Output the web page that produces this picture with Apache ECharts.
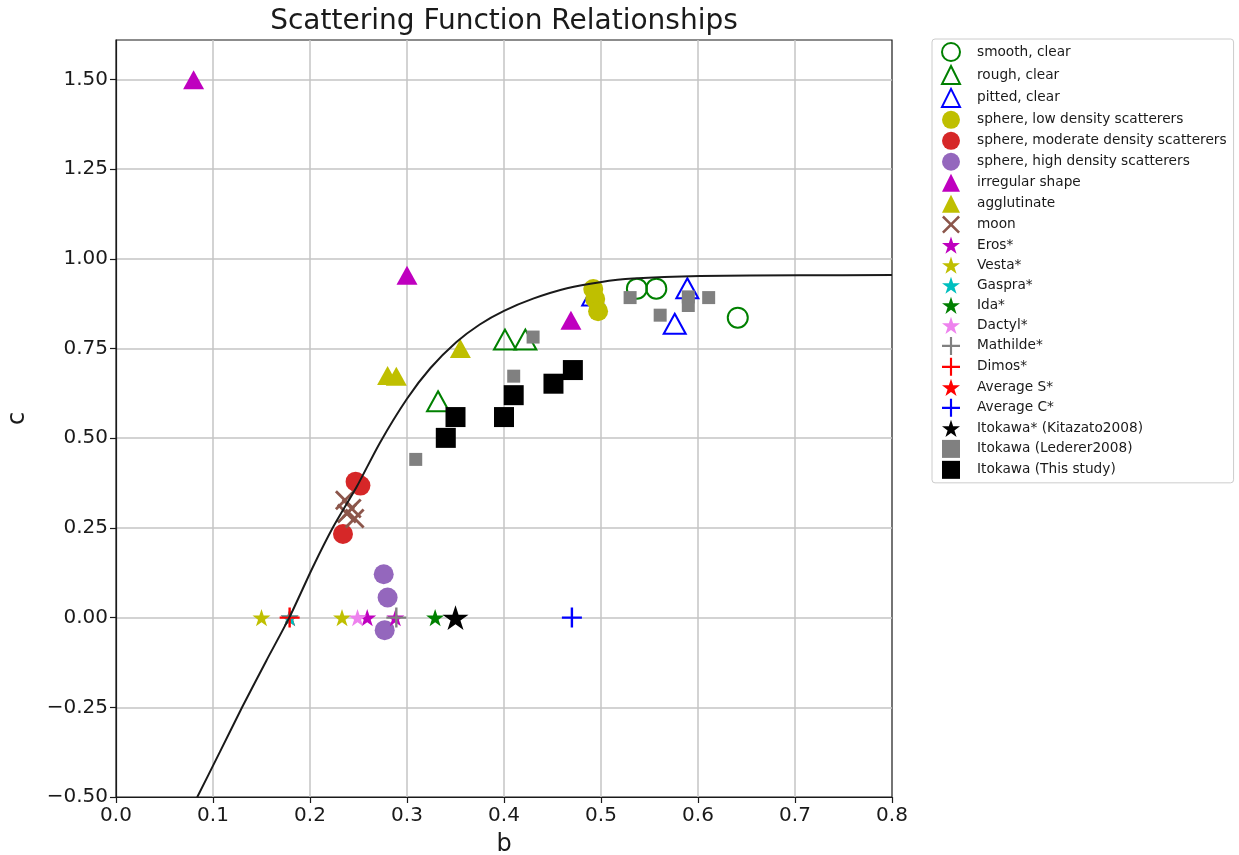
<!DOCTYPE html>
<html>
<head>
<meta charset="utf-8">
<script src="https://cdn.jsdelivr.net/npm/echarts@6/dist/echarts.min.js"></script>
<style>html,body{margin:0;padding:0;background:#fff;}#chart{width:1239px;height:855px;}</style>
</head>
<body>
<div id="chart"></div>
<script>
// ---- data (b, c) ----
const smoothClear = [[0.537, 0.917], [0.557, 0.917], [0.641, 0.836]];
const roughClear = [[0.401, 0.775], [0.422, 0.775], [0.332, 0.603]];
const pittedClear = [[0.492, 0.898], [0.589, 0.918], [0.576, 0.819]];
const sphereLow = [[0.492, 0.916], [0.494, 0.888], [0.497, 0.854]];
const sphereModerate = [[0.247, 0.379], [0.252, 0.368], [0.234, 0.233]];
const sphereHigh = [[0.276, 0.121], [0.280, 0.056], [0.277, -0.035]];
const irregularShape = [[0.080, 1.499], [0.300, 0.954], [0.469, 0.829]];
const agglutinate = [[0.280, 0.675], [0.289, 0.673], [0.355, 0.750]];
const moon = [[0.236, 0.327], [0.243, 0.304], [0.246, 0.276], [0.238, 0.290]];
const eros = [[0.259, 0], [0.288, 0]];
const vesta = [[0.150, 0], [0.233, 0]];
const gaspra = [[0.179, 0]];
const ida = [[0.329, 0]];
const dactyl = [[0.249, 0]];
const mathilde = [[0.289, 0]];
const dimos = [[0.179, 0]];
const averageS = [[0.179, 0]];
const averageC = [[0.470, 0]];
const itokawaKitazato = [[0.350, 0]];
const itokawaLederer = [[0.309, 0.441], [0.410, 0.673], [0.430, 0.782], [0.530, 0.892], [0.561, 0.843], [0.590, 0.894], [0.590, 0.870], [0.611, 0.892]];
const itokawaThisStudy = [[0.340, 0.501], [0.350, 0.559], [0.400, 0.559], [0.410, 0.620], [0.451, 0.652], [0.471, 0.690]];
// model curve
const curveB = [0.080, 0.0838, 0.107, 0.130, 0.155, 0.179, 0.203, 0.224, 0.248, 0.272, 0.300, 0.324, 0.351, 0.375, 0.400, 0.430, 0.465, 0.499, 0.533, 0.602, 0.705, 0.800];
const curveC = [-0.52, -0.50, -0.375, -0.25, -0.12, 0.002, 0.141, 0.253, 0.364, 0.487, 0.610, 0.695, 0.768, 0.817, 0.855, 0.889, 0.918, 0.935, 0.945, 0.952, 0.954, 0.955];
const xTicks = { min: 0, max: 0.8, step: 0.1 };
const yTicks = { min: -0.5, max: 1.61, step: 0.25 };

const STAR = 'path://M50,0 L61.23,34.55 L97.55,34.55 L68.16,55.9 L79.39,90.45 L50,69.1 L20.61,90.45 L31.84,55.9 L2.45,34.55 L38.77,34.55 Z';
const PLUS = 'path://M44,0 L56,0 L56,44 L100,44 L100,56 L56,56 L56,100 L44,100 L44,56 L0,56 L0,44 L44,44 Z';
const XMARK = 'path://M0,10 L10,0 L50,40 L90,0 L100,10 L60,50 L100,90 L90,100 L50,60 L10,100 L0,90 L40,50 Z';

function hollow(name, data, symbol, color, size) {
  return { name, type: 'scatter', data, symbol, symbolSize: size,
    itemStyle: { color: 'rgba(0,0,0,0)', borderColor: color, borderWidth: 2, opacity: 1 } };
}
function filled(name, data, symbol, color, size, z) {
  const s = { name, type: 'scatter', data, symbol, symbolSize: size, symbolKeepAspect: true,
    itemStyle: { color, opacity: 1 } };
  if (z !== undefined) s.z = z;
  return s;
}

const series = [
  hollow('smooth, clear', smoothClear, 'circle', '#008000', 20),
  hollow('rough, clear', roughClear, 'triangle', '#008000', [22, 20]),
  hollow('pitted, clear', pittedClear, 'triangle', '#0000ff', [22, 20]),
  filled('sphere, low density scatterers', sphereLow, 'circle', '#bfbf00', 20),
  filled('sphere, moderate density scatterers', sphereModerate, 'circle', '#d62728', 20),
  filled('sphere, high density scatterers', sphereHigh, 'circle', '#9467bd', 20),
  filled('irregular shape', irregularShape, 'triangle', '#bf00bf', [21, 19]),
  filled('agglutinate', agglutinate, 'triangle', '#bfbf00', [21, 19]),
  filled('moon', moon, XMARK, '#8c564b', 20),
  filled('Eros*', eros, STAR, '#bf00bf', 18),
  filled('Vesta*', vesta, STAR, '#bfbf00', 18),
  filled('Gaspra*', gaspra, STAR, '#00bfbf', 18),
  filled('Ida*', ida, STAR, '#008000', 18),
  filled('Dactyl*', dactyl, STAR, '#ee82ee', 18),
  filled('Mathilde*', mathilde, PLUS, '#808080', 20),
  filled('Dimos*', dimos, PLUS, '#ff0000', 20),
  filled('Average S*', averageS, STAR, '#ff0000', 18, 1),
  filled('Average C*', averageC, PLUS, '#0000ff', 20),
  filled('Itokawa* (Kitazato2008)', itokawaKitazato, STAR, '#000000', 26),
  filled('Itokawa (Lederer2008)', itokawaLederer, 'rect', '#808080', 13),
  filled('Itokawa (This study)', itokawaThisStudy, 'rect', '#000000', 20),
  { name: 'model', type: 'line', data: curveB.map((b, i) => [b, curveC[i]]), showSymbol: false,
    symbol: 'none', smooth: 0.25, lineStyle: { color: '#1a1a1a', width: 2 }, silent: true, z: 3 }
];

const FONT = 'DejaVu Sans';
const chart = echarts.init(document.getElementById('chart'), null, { renderer: 'canvas' });
chart.setOption({
  animation: false,
  backgroundColor: '#ffffff',
  textStyle: { fontFamily: FONT },
  title: { text: 'Scattering Function Relationships', left: 499, top: 3, textAlign: 'center',
    textStyle: { fontFamily: FONT, fontSize: 28, fontWeight: 'normal', color: '#1a1a1a' } },
  grid: { left: 116, right: 347, top: 40, bottom: 58, containLabel: false, outerBoundsMode: 'none',
    show: true, borderColor: '#1a1a1a', borderWidth: 1.2, backgroundColor: 'transparent' },
  legend: {
    orient: 'vertical', left: 932, top: 39,
    padding: [3, 7, 4, 9],
    itemWidth: 18, itemHeight: 18, itemGap: 2.95,
    borderColor: '#cccccc', borderWidth: 1, borderRadius: 3, backgroundColor: '#ffffff',
    selectedMode: false,
    textStyle: { fontFamily: FONT, fontSize: 13.7, color: '#1a1a1a', padding: [0, 0, 0, 12] },
    data: series.filter(s => s.type === 'scatter').map(s => s.name)
  },
  xAxis: {
    type: 'value', min: xTicks.min, max: xTicks.max, interval: xTicks.step,
    name: 'b', nameLocation: 'middle', nameGap: 36,
    nameTextStyle: { fontFamily: FONT, fontSize: 24, color: '#1a1a1a' },
    axisLine: { show: true, onZero: false, lineStyle: { color: '#1a1a1a', width: 1.2 } },
    axisTick: { show: true, length: 6, lineStyle: { color: '#1a1a1a', width: 1.2 } },
    axisLabel: { fontFamily: FONT, fontSize: 20, color: '#1a1a1a', margin: 9,
      formatter: v => v.toFixed(1) },
    splitLine: { show: true, showMinLine: false, showMaxLine: false, lineStyle: { color: '#c4c4c4', width: 1.5 } }
  },
  yAxis: {
    type: 'value', min: yTicks.min, max: yTicks.max, interval: yTicks.step,
    name: 'c', nameLocation: 'middle', nameGap: 86, nameRotate: 90,
    nameTextStyle: { fontFamily: FONT, fontSize: 24, color: '#1a1a1a' },
    axisLine: { show: true, onZero: false, lineStyle: { color: '#1a1a1a', width: 1.2 } },
    axisTick: { show: true, length: 6, lineStyle: { color: '#1a1a1a', width: 1.2 } },
    axisLabel: { fontFamily: FONT, fontSize: 20, color: '#1a1a1a', margin: 8, showMaxLabel: false,
      formatter: v => v.toFixed(2).replace('-', '\u2212') },
    splitLine: { show: true, showMinLine: false, showMaxLine: false, lineStyle: { color: '#c4c4c4', width: 1.5 } }
  },
  series
});
</script>
</body>
</html>
